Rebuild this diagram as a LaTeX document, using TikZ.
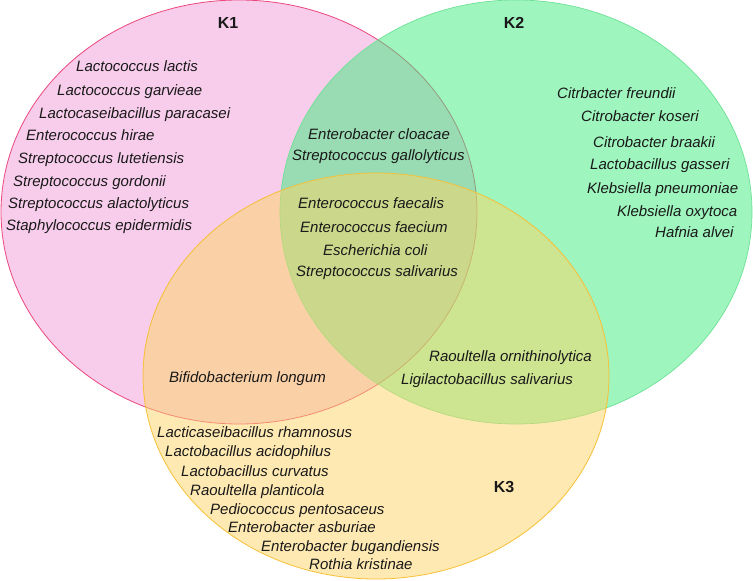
\documentclass[tikz,border=0pt]{standalone}
\usepackage{fontspec}
\setmainfont{Liberation Sans}
\definecolor{kOneFill}{RGB}{247,205,235}
\definecolor{kOneLine}{RGB}{236,70,125}
\definecolor{kTwoFill}{RGB}{61,235,125}
\definecolor{kTwoLine}{RGB}{110,225,150}
\definecolor{kThreeFill}{RGB}{253,211,101}
\definecolor{kThreeLine}{RGB}{246,192,55}
\definecolor{txt}{RGB}{25,25,25}
\tikzset{
  species/.style={anchor=base west, inner sep=0pt, text=txt, font=\fontsize{15}{18}\selectfont\itshape},
  setlabel/.style={anchor=center, inner sep=0pt, text=txt, font=\fontsize{16}{19}\selectfont\bfseries},
}
\begin{document}
\begin{tikzpicture}[x=1pt,y=-1pt]
\useasboundingbox (0,0) rectangle (753,581);
% sets
\fill[kOneFill] (239,212) ellipse [x radius=238pt, y radius=212pt];
\draw[kOneLine, line width=0.8pt] (239,212) ellipse [x radius=238pt, y radius=212pt];
\fill[kTwoFill, fill opacity=0.5] (516,212) ellipse [x radius=236pt, y radius=212pt];
\draw[kTwoLine, line width=0.7pt] (516,212) ellipse [x radius=236pt, y radius=212pt];
\fill[kThreeFill, fill opacity=0.5] (376,376) ellipse [x radius=233pt, y radius=203pt];
\draw[kThreeLine, line width=0.8pt] (376,376) ellipse [x radius=233pt, y radius=203pt];
% labels
\node[setlabel] (k1) at (228,23) {K1};
\node[setlabel] (k2) at (514,23) {K2};
\node[setlabel] (k3) at (504,487) {K3};
% K1 only
\node[species] (a1) at (76,71) {Lactococcus lactis};
\node[species] (a2) at (57,95) {Lactococcus garvieae};
\node[species] (a3) at (39,118) {Lactocaseibacillus paracasei};
\node[species] (a4) at (26,140) {Enterococcus hirae};
\node[species] (a5) at (18,163) {Streptococcus lutetiensis};
\node[species] (a6) at (13,186) {Streptococcus gordonii};
\node[species] (a7) at (8,208) {Streptococcus alactolyticus};
\node[species] (a8) at (6,230) {Staphylococcus epidermidis};
% K1 and K2
\node[species] (b1) at (308,139) {Enterobacter cloacae};
\node[species] (b2) at (292,160) {Streptococcus gallolyticus};
% all three
\node[species] (c1) at (298,208) {Enterococcus faecalis};
\node[species] (c2) at (300,232) {Enterococcus faecium};
\node[species] (c3) at (323,255) {Escherichia coli};
\node[species] (c4) at (296,276) {Streptococcus salivarius};
% K1 and K3
\node[species] (d1) at (169,382) {Bifidobacterium longum};
% K2 and K3
\node[species] (e1) at (429,361) {Raoultella ornithinolytica};
\node[species] (e2) at (401,384) {Ligilactobacillus salivarius};
% K2 only
\node[species] (f1) at (557,98) {Citrbacter freundii};
\node[species] (f2) at (581,121) {Citrobacter koseri};
\node[species] (f3) at (593,147) {Citrobacter braakii};
\node[species] (f4) at (590,169) {Lactobacillus gasseri};
\node[species] (f5) at (587,193) {Klebsiella pneumoniae};
\node[species] (f6) at (617,216) {Klebsiella oxytoca};
\node[species] (f7) at (655,237) {Hafnia alvei};
% K3 only
\node[species] (g1) at (157,437) {Lacticaseibacillus rhamnosus};
\node[species] (g2) at (165,456) {Lactobacillus acidophilus};
\node[species] (g3) at (181,476) {Lactobacillus curvatus};
\node[species] (g4) at (190,495) {Raoultella planticola};
\node[species] (g5) at (210,514) {Pediococcus pentosaceus};
\node[species] (g6) at (228,532) {Enterobacter asburiae};
\node[species] (g7) at (261,551) {Enterobacter bugandiensis};
\node[species] (g8) at (309,569) {Rothia kristinae};
\end{tikzpicture}
\end{document}
